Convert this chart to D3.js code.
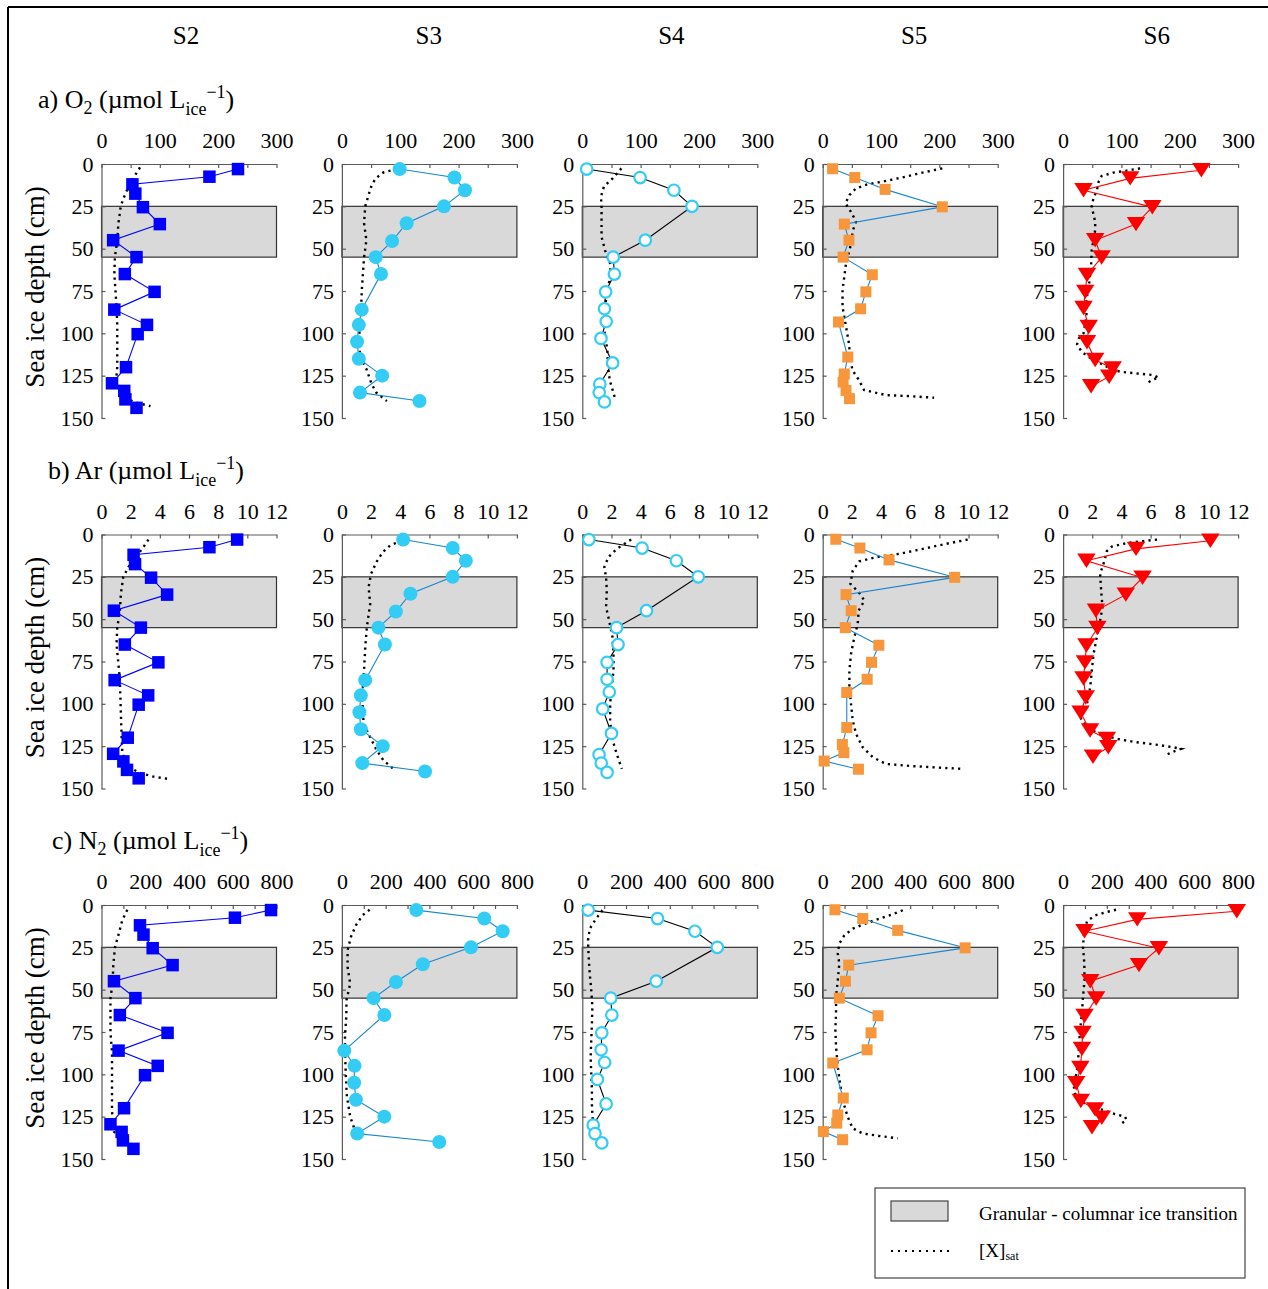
<!DOCTYPE html>
<html>
<head>
<meta charset="utf-8">
<script src="https://cdn.jsdelivr.net/npm/d3@7"></script>
<style>
  body { margin: 0; background: #fff; }
  svg text { font-family: "Liberation Serif", "Times New Roman", serif; fill: #000; }
</style>
</head>
<body>
<svg id="chart" width="1268" height="1289"></svg>
<script>
// stations and gases
const stations = ["S2", "S3", "S4", "S5", "S6"]
const gases = ["O2", "Ar", "N2"]
const xDomains = [[0, 300], [0, 12], [0, 800]]
const xTicks = [[0, 50, 100, 150, 200, 250, 300], [0, 2, 4, 6, 8, 10, 12], [0, 100, 200, 300, 400, 500, 600, 700, 800]]
const xLabels = [[0, 100, 200, 300], [0, 2, 4, 6, 8, 10, 12], [0, 200, 400, 600, 800]]
const depthTicks = [0, 25, 50, 75, 100, 125, 150]
const transition = [25, 55]

// sample depths (cm)
const depthS2 = [3, 7.5, 12, 17.5, 25.5, 35.5, 45, 55, 65, 75.5, 86, 95, 100.5, 120, 129.5, 134, 139, 144]
const depthS3 = [3, 8, 15.5, 25, 35, 45.5, 55, 65, 86, 95, 105, 115, 125, 135, 140]
const depthS4 = [3, 8, 15.5, 25, 45, 55, 65, 75.5, 85.5, 93, 103, 117.5, 130, 135, 140.5]
const depthS5 = [2.8, 8, 15, 25.3, 35.5, 45, 55, 65.4, 75.5, 85.5, 93.3, 114, 124, 128.8, 133.8, 138.6]
const depthS6 = [3.7, 8.5, 15.5, 25.5, 35.5, 45, 55.2, 65.5, 75.5, 85, 96.3, 105.3, 115.7, 120.7, 125.6, 131.2]

// O2 (umol L-1)
const o2S2 = [234, 185, 53, 58, 71, 100, 20, 60, 40, 91, 22, 78, 62, 42, 18, 39, 41, 60]
const o2S3 = [99, 193, 211, 175, 111, 86, 58, 67, 34, 29, 26, 29, 69, 31, 133]
const o2S4 = [7.5, 99, 157, 188, 108, 53, 55, 40, 38, 41, 32, 52, 30, 29, 38]
const o2S5 = [17, 55, 107, 205, 37, 45, 35, 85, 74, 65, 27, 43, 37, 35, 40, 46]
const o2S6 = [237, 115, 35, 153, 125, 55, 66, 41, 38, 35, 44, 41, 55, 85, 79, 48]

// Ar (umol L-1)
const arS2 = [9.3, 7.4, 2.2, 2.3, 3.4, 4.5, 0.85, 2.7, 1.6, 3.9, 0.9, 3.2, 2.55, 1.8, 0.8, 1.5, 1.75, 2.55]
const arS3 = [4.2, 7.6, 8.5, 7.6, 4.7, 3.7, 2.5, 2.95, 1.6, 1.3, 1.2, 1.3, 2.8, 1.4, 5.7]
const arS4 = [0.45, 4.1, 6.45, 7.95, 4.4, 2.35, 2.45, 1.7, 1.7, 1.85, 1.4, 2.0, 1.15, 1.3, 1.7]
const arS5 = [0.9, 2.55, 4.55, 9.05, 1.6, 1.95, 1.55, 3.85, 3.35, 3.05, 1.65, 1.65, 1.35, 1.45, 0.1, 2.45]
const arS6 = [10.1, 5.0, 1.6, 5.45, 4.3, 2.25, 2.35, 1.6, 1.5, 1.4, 1.55, 1.2, 1.85, 3.0, 3.1, 2.05]

// N2 (umol L-1)
const n2S2 = [775, 610, 176, 192, 234, 325, 57, 155, 84, 302, 78, 257, 199, 103, 41, 92, 98, 146]
const n2S3 = [340, 651, 735, 590, 370, 247, 145, 194, 11, 58, 56, 64, 194, 70, 445]
const n2S4 = [27, 344, 515, 617, 338, 130, 135, 89, 86, 102, 69, 109, 50, 58, 89]
const n2S5 = [56, 183, 343, 651, 119, 104, 76, 253, 221, 203, 46, 94, 69, 64, 3, 91]
const n2S6 = [794, 339, 98, 438, 347, 124, 151, 98, 89, 86, 79, 60, 81, 146, 177, 132]

// saturation profiles [depth, value]
const satO2S2 = [[2,66],[7,57],[12,48],[20,38],[25,33],[35,29],[45,27],[55,23],[65,22],[75,24],[86,26],[95,27],[100,27],[120,27],[128,25],[134,36],[139,46],[141,60],[143,84]]
const satO2S3 = [[3,94],[5,71],[8.5,58],[12.5,51],[18,46],[25,40],[35,38],[45,42],[55,38],[65,36],[75,34],[86,33],[100,30],[114,31],[121,42],[130,51],[135,59],[140,77]]
const satO2S4 = [[2.6,67],[8.5,52],[13.4,37],[19.3,32],[25.2,33],[33,33],[43,33],[51,39],[59,48],[66.5,48],[74.5,43],[84.3,39],[90.2,37],[99,38],[110,43],[119.7,44],[127.6,47],[133.5,52],[139.4,57]]
const satO2S5 = [[2.6,205],[5.1,171],[7.9,137],[10.4,103],[12,77],[14.4,57],[18.3,46],[23.2,39],[29.1,50],[34.1,57],[40,51],[45,50],[50.8,46],[58.7,40],[66.6,37],[74.4,34],[84.3,34],[96,40],[106,45],[114,47],[121.7,51],[127.6,62],[133.5,71],[136.5,109],[137,143],[138,191]]
const satO2S6 = [[2.6,132],[3.9,109],[5.1,86],[7.1,66],[10.4,61],[15.4,58],[20.3,52],[25.2,49],[34.1,55],[39,55],[45,52],[50.8,49],[59.7,48],[69.5,45],[80.3,40],[90.2,40],[100,35],[103,27],[106.5,24],[111,32],[115.8,52],[119.7,75],[122.7,98],[123.7,126],[124.6,154],[126.2,164],[127.6,151],[130.5,142]]

const satArS2 = [[3,3.22],[7.5,2.87],[12.8,2.41],[19.3,1.84],[25.2,1.49],[35,1.33],[45,1.26],[55,1.08],[65,1.03],[75.5,1.15],[86,1.26],[100,1.31],[120,1.38],[129.5,1.43],[137.5,1.95],[140.5,2.53],[143,3.56],[144.3,4.53]]
const satArS3 = [[3.5,4.1],[6.5,3.3],[10.4,2.8],[15.8,2.4],[23.2,2.0],[31.1,1.83],[41,1.94],[54.7,1.71],[66.6,1.6],[78.4,1.53],[90.2,1.44],[102,1.42],[111.8,1.49],[119.7,1.94],[127.6,2.4],[133.5,2.86],[138.4,3.54]]
const satArS4 = [[3,3.35],[8.5,2.36],[13.4,1.79],[19.3,1.51],[25.2,1.63],[33.1,1.68],[42.9,1.63],[50.8,1.84],[60.6,2.07],[70.5,2.14],[80.3,2.14],[90.2,2.02],[100,1.91],[109.9,1.91],[119.7,2.02],[129.6,2.36],[138.4,2.71]]
const satArS5 = [[3,9.94],[5.5,8.46],[8.5,6.86],[11.4,5.26],[13.4,3.66],[15.9,2.51],[21.3,2.06],[29.1,1.9],[34.1,2.47],[39,2.86],[44.9,2.47],[52.8,2.4],[60.6,2.17],[70.5,1.94],[80.3,1.83],[90.2,1.83],[100,1.94],[109.9,2.06],[117.7,2.29],[125.6,2.74],[131.5,3.43],[135.5,4.34],[136.8,6.17],[137.8,8.23],[138.4,9.6]]
const satArS6 = [[3,6.44],[3.9,5.49],[5.1,4.36],[7.1,3.34],[9.8,3.0],[15.4,2.84],[23.2,2.54],[33.1,2.61],[42.9,2.7],[50.8,2.54],[60.6,2.31],[70.5,2.09],[80.3,1.97],[90.2,1.86],[100,1.63],[104,1.18],[108.9,1.23],[114.8,1.75],[117.7,2.54],[120.7,3.68],[122.7,5.04],[124,6.29],[125.6,7.53],[126.6,8.1],[128.6,7.42],[130.5,7.03]]

const satN2S2 = [[2.8,118],[9,95],[17.9,77],[25.4,61],[35.6,54],[45.4,51],[55.4,41],[65.5,41],[75.5,41],[86.5,48],[95.5,48],[109.3,48],[120.3,48],[129,51],[133.9,57],[137.8,92],[139.5,105]]
const satN2S3 = [[2.8,127],[6.1,94],[12,64],[18.9,41],[26.7,26],[36.6,26],[46.4,38],[56.2,21],[66,20],[77.9,14],[89.6,15],[101.4,18],[113.2,23],[125,38],[132.9,59],[139.8,94]]
const satN2S4 = [[3.1,92],[8.1,63],[14,34],[20.8,26],[30.7,29],[40.5,34],[50.3,41],[60.2,46],[70,44],[79.8,41],[89.6,38],[99.5,41],[109.3,44],[119.1,44],[129,49],[136.8,57],[140.2,64]]
const satN2S5 = [[3.1,366],[6.1,305],[8.7,244],[11.6,183],[14,137],[17.9,99],[22.8,76],[28.7,69],[34.6,76],[44.4,69],[54.3,61],[64.1,61],[74,58],[83.8,61],[95.5,69],[105.4,79],[115.2,91],[125,114],[131.9,137],[134.9,183],[136.4,259],[137.8,343]]
const satN2S6 = [[2.8,242],[4.1,200],[6.1,147],[9.4,110],[14.9,97],[24.8,91],[34.6,97],[44.4,98],[54.3,91],[64.1,86],[75.9,76],[87.7,71],[99.5,62],[105.4,47],[111.3,54],[116.2,86],[118.7,124],[121.1,184],[123.5,237],[125,283],[127,290],[129,268],[130.9,260]]

const depths = [depthS2, depthS3, depthS4, depthS5, depthS6]
const values = [
   [o2S2, o2S3, o2S4, o2S5, o2S6],
   [arS2, arS3, arS4, arS5, arS6],
   [n2S2, n2S3, n2S4, n2S5, n2S6]
]
const sats = [
   [satO2S2, satO2S3, satO2S4, satO2S5, satO2S6],
   [satArS2, satArS3, satArS4, satArS5, satArS6],
   [satN2S2, satN2S3, satN2S4, satN2S5, satN2S6]
]

// marker style per station
const styles = [
   {shape: "square", size: 12.5, fill: "#0000ff", stroke: "none", line: "#0000ff"},
   {shape: "circle", size: 14, fill: "#33ccf5", stroke: "none", line: "#1a86d0"},
   {shape: "circle", size: 11.5, fill: "#fff", stroke: "#33ccf5", line: "#000"},
   {shape: "square", size: 11, fill: "#f7963a", stroke: "none", line: "#1a86d0"},
   {shape: "triangle", size: 18.5, fill: "#ff0000", stroke: "none", line: "#ff0000"}
]

const svg = d3.select("#chart")
const colX = i => 101.5 + i * 240.4
const rowY = r => 164 + r * 370.5
const pw = 175, ph = 254
const axisGrey = "#5a5a5a"

// outer frame (top + left)
svg.append("path").attr("d", "M8,7H1268M8,7V1289").attr("stroke", "#000").attr("stroke-width", 2).attr("fill", "none")

// station headers
stations.forEach((s, i) => {
   svg.append("text").attr("x", 186 + i * 242.7).attr("y", 44)
      .attr("text-anchor", "middle").attr("font-size", 25).text(s)
})

function rowTitle(r) {
   const t = svg.append("text").attr("x", [38, 48, 52][r]).attr("y", rowY(r) - 56).attr("font-size", 26)
   if (r == 0) {
      t.append("tspan").text("a) O")
      t.append("tspan").attr("font-size", 18).attr("dy", 6).text("2")
      t.append("tspan").attr("dy", -6).text(" (µmol L")
   } else if (r == 1) {
      t.append("tspan").text("b) Ar (µmol L")
   } else {
      t.append("tspan").text("c) N")
      t.append("tspan").attr("font-size", 18).attr("dy", 6).text("2")
      t.append("tspan").attr("dy", -6).text(" (µmol L")
   }
   t.append("tspan").attr("font-size", 18).attr("dy", 7).text("ice")
   t.append("tspan").attr("font-size", 18).attr("dy", -17).text("\u22121")
   t.append("tspan").attr("dy", 10).text(")")
}

function marker(g, st, cx, cy) {
   const s = st.size
   let m
   if (st.shape == "square") {
      m = g.append("rect").attr("x", cx - s / 2).attr("y", cy - s / 2).attr("width", s).attr("height", s)
   } else if (st.shape == "circle") {
      m = g.append("circle").attr("cx", cx).attr("cy", cy).attr("r", s / 2)
   } else {
      const h = s * 0.78
      m = g.append("path").attr("d", `M${cx - s / 2},${cy - h / 2}L${cx + s / 2},${cy - h / 2}L${cx},${cy + h / 2}Z`)
   }
   m.attr("fill", st.fill)
   if (st.stroke != "none") m.attr("stroke", st.stroke).attr("stroke-width", 2.2)
}

for (let r = 0; r < 3; r++) {
   rowTitle(r)
   for (let c = 0; c < 5; c++) {
      const g = svg.append("g").attr("transform", `translate(${colX(c)},${rowY(r)})`)
      const x = d3.scaleLinear().domain(xDomains[r]).range([0, pw])
      const y = d3.scaleLinear().domain([0, 150]).range([0, ph])

      // granular - columnar transition band
      g.append("rect").attr("x", 0).attr("y", y(transition[0]))
         .attr("width", pw).attr("height", y(transition[1]) - y(transition[0]))
         .attr("fill", "#d9d9d9").attr("stroke", "#333").attr("stroke-width", 1.2)

      const labels = xLabels[r]
      const top = g.append("g").call(d3.axisTop(x).tickValues(xTicks[r]).tickSize(-4).tickSizeOuter(0).tickPadding(16)
         .tickFormat(d => labels.includes(d) ? d : ""))
      const left = g.append("g").call(d3.axisLeft(y).tickValues(depthTicks).tickSize(-4).tickSizeOuter(0).tickPadding(8))
      ;[top, left].forEach(a => {
         a.selectAll("path, line").attr("stroke", axisGrey).attr("stroke-width", 1.2)
         a.selectAll("text").attr("font-size", 22).attr("fill", "#000")
         a.attr("font-family", null)
      })

      // saturation profile
      const profLine = d3.line().x(d => x(d[1])).y(d => y(d[0]))
      g.append("path").attr("d", profLine(sats[r][c])).attr("fill", "none")
         .attr("stroke", "#000").attr("stroke-width", 2.4).attr("stroke-dasharray", "2.2,4.2")

      // measured profile
      const pts = depths[c].map((d, i) => [d, values[r][c][i]])
      const st = styles[c]
      g.append("path").attr("d", profLine(pts)).attr("fill", "none")
         .attr("stroke", st.line).attr("stroke-width", 1.1)
      pts.forEach(p => marker(g, st, x(p[1]), y(p[0])))
   }
   // y label
   svg.append("text").attr("transform", `translate(${44},${rowY(r) + ph / 2 - 4}) rotate(-90)`)
      .attr("text-anchor", "middle").attr("font-size", 27).text("Sea ice depth (cm)")
}

// legend
const lg = svg.append("g")
lg.append("rect").attr("x", 875).attr("y", 1188).attr("width", 370).attr("height", 90)
   .attr("fill", "#fff").attr("stroke", "#444").attr("stroke-width", 1.2)
lg.append("rect").attr("x", 891).attr("y", 1201).attr("width", 57).attr("height", 20)
   .attr("fill", "#d9d9d9").attr("stroke", "#444").attr("stroke-width", 1.2)
lg.append("text").attr("x", 979).attr("y", 1220).attr("font-size", 19).text("Granular - columnar ice transition")
lg.append("path").attr("d", "M891,1251H950").attr("stroke", "#000").attr("stroke-width", 2.2).attr("stroke-dasharray", "2,5")
const sl = lg.append("text").attr("x", 979).attr("y", 1257).attr("font-size", 19)
sl.append("tspan").text("[X]")
sl.append("tspan").attr("font-size", 12).attr("dy", 3).text("sat")
</script>
</body>
</html>
